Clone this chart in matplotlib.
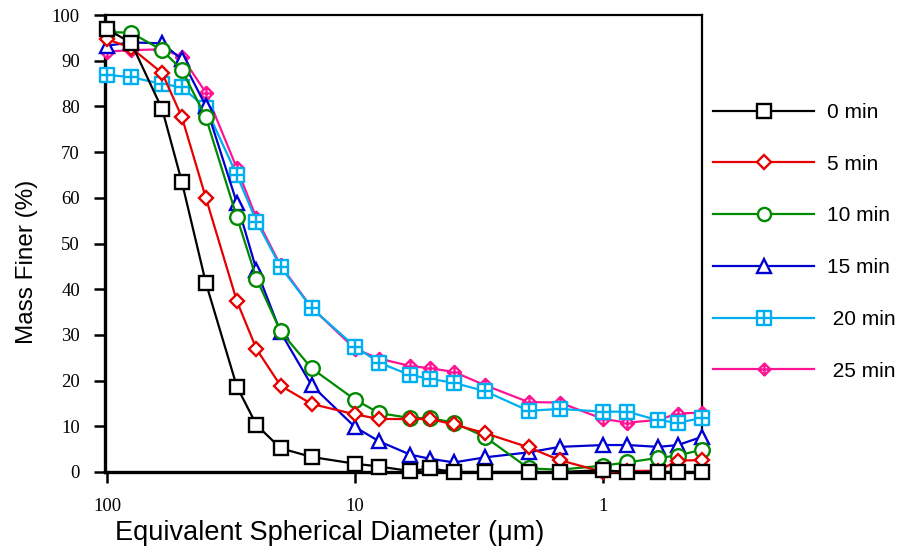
import matplotlib
matplotlib.use('Agg')
import matplotlib.pyplot as plt
from matplotlib.path import Path

# equivalent spherical diameter (um) and mass finer (%) per settling time
diameter = [100, 80, 60, 50, 40, 30, 25, 20, 15, 10, 8, 6, 5, 4, 3, 2, 1.5, 1, 0.8, 0.6, 0.5, 0.4]

min0 = [96.9, 93.9, 79.4, 63.5, 41.4, 18.7, 10.3, 5.2, 3.3, 1.8, 1.2, 0.2, 0.8, 0, 0, 0, 0, 0.4, 0, 0, 0, 0]
min5 = [94.7, 92.8, 87.3, 77.7, 60.0, 37.4, 26.9, 18.9, 14.9, 12.6, 11.6, 11.6, 11.6, 10.4, 8.5, 5.4, 2.6, 0.0, 0.2, 0.3, 2.5, 2.6]
min10 = [96.3, 96.1, 92.3, 88.0, 77.6, 55.8, 42.3, 30.8, 22.7, 15.8, 12.9, 11.8, 11.8, 10.8, 7.7, 0.8, 0.5, 1.4, 2.1, 3.1, 3.6, 4.9]
min15 = [93.3, 94.0, 93.8, 90.3, 80.1, 58.9, 44.2, 30.6, 19.0, 9.8, 6.7, 3.8, 2.9, 2.1, 3.2, 4.3, 5.5, 5.9, 5.9, 5.5, 5.9, 7.7]
min20 = [86.9, 86.4, 84.9, 84.2, 79.7, 65.0, 54.8, 44.9, 35.9, 27.4, 23.9, 21.2, 20.4, 19.5, 17.7, 13.4, 13.8, 13.2, 13.2, 11.3, 10.8, 11.8]
min25 = [92.0, 92.3, 92.5, 90.9, 83.0, 66.5, 55.5, 45.2, 36.0, 26.9, 24.8, 23.2, 22.7, 21.9, 19.0, 15.3, 15.2, 11.6, 10.8, 11.4, 12.8, 13.0]

labels = ['0 min', '5 min', '10 min', '15 min', ' 20 min', ' 25 min']

M, L, C = Path.MOVETO, Path.LINETO, Path.CLOSEPOLY
square_plus = Path([(-1, -1), (1, -1), (1, 1), (-1, 1), (-1, -1), (0, -1), (0, 1), (-1, 0), (1, 0)],
                   [M, L, L, L, C, M, L, M, L])
diamond_plus = Path([(0, -1), (1, 0), (0, 1), (-1, 0), (0, -1), (0, -1), (0, 1), (-1, 0), (1, 0)],
                    [M, L, L, L, C, M, L, M, L])

series = [min0, min5, min10, min15, min20, min25]
colors = ['black', '#e60000', '#008a00', '#0000d0', '#00aff0', '#ff1493']
markers = ['s', 'D', 'o', '^', square_plus, diamond_plus]
sizes = [10.5, 7.5, 10.5, 10.5, 10.5, 9.5]

fig = plt.figure(figsize=(9.06, 5.52), dpi=100)
ax = fig.add_axes([105 / 906, 1 - 472 / 552, (702 - 105) / 906, (472 - 15) / 552])

handles = []
for i, (ys, col, mk, ms, lab) in enumerate(zip(series, colors, markers, sizes, labels)):
    h, = ax.plot(diameter, ys, color=col, marker=mk, markersize=ms, markerfacecolor='white',
                 markeredgecolor=col, markeredgewidth=1.7, linewidth=1.6, label=lab,
                 zorder=10 - i, clip_on=False)
    handles.append(h)

ax.set_xscale('log')
ax.set_xlim(102, 0.4)
ax.set_ylim(0, 100)
ax.set_xticks([100, 10, 1])
ax.set_xticklabels(['100', '10', '1'])
ax.xaxis.set_minor_locator(plt.NullLocator())
ax.set_yticks(range(0, 101, 10))

for lab in ax.get_xticklabels() + ax.get_yticklabels():
    lab.set_fontfamily('Liberation Serif')
    lab.set_fontsize(13.5)
ax.tick_params(axis='both', direction='out', length=8, width=1.8, colors='black')
ax.tick_params(axis='y', pad=10)
ax.tick_params(axis='x', pad=11)
ax.tick_params(top=False, right=False)

ax.spines['left'].set_linewidth(2.4)
ax.spines['bottom'].set_linewidth(2.4)
ax.spines['top'].set_linewidth(1.6)
ax.spines['right'].set_linewidth(1.6)

ax.set_ylabel('Mass Finer (%)', fontfamily='Liberation Sans', fontsize=17.5)
ax.yaxis.set_label_coords(-0.112, 0.46)
ax.set_xlabel('Equivalent Spherical Diameter (\u03bcm)', fontfamily='Liberation Sans', fontsize=19.5)
ax.xaxis.set_label_coords(0.377, -0.104)

leg = ax.legend(handles=handles, loc='upper left', bbox_to_anchor=(713 / 906, 1 - 103 / 552),
                bbox_transform=fig.transFigure, frameon=False, numpoints=1,
                prop={'family': 'Liberation Sans', 'size': 15}, handlelength=4.85,
                handletextpad=0.6, labelspacing=1.57, borderpad=0, borderaxespad=0,
                markerscale=0.9)

fig.savefig('out.png', dpi=100)
